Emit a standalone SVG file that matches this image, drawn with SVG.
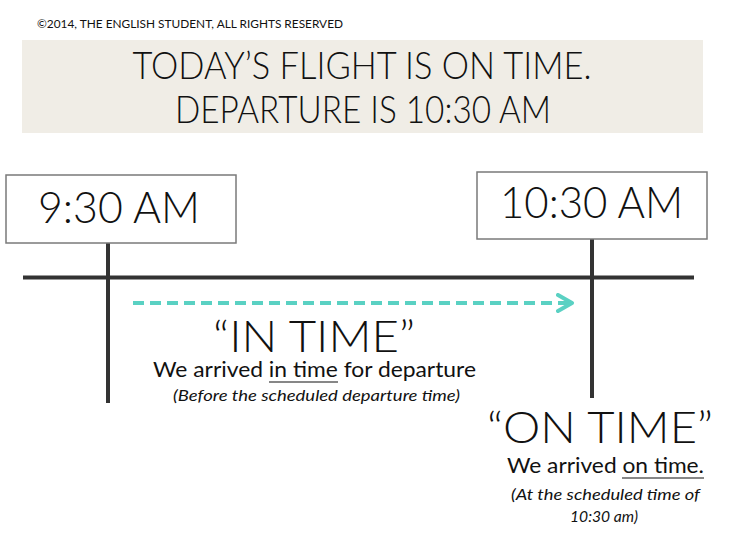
<svg xmlns="http://www.w3.org/2000/svg" width="733" height="559" viewBox="0 0 733 559">
<defs>
<style>
.t{font-family:Lato,"Noto Sans","Liberation Sans",sans-serif;fill:#111}
.big{font-size:43px;font-weight:300}
.mid{font-size:21px}
.it{font-size:15px;font-style:italic}
.box{fill:#fff;stroke:#7a7a7a;stroke-width:1.5}
.line{stroke:#333;stroke-width:4;fill:none}
.ul{stroke:#111;stroke-width:1.2}
</style>
<marker id="chev" viewBox="0 0 10 10" refX="8" refY="5" markerWidth="5" markerHeight="5" markerUnits="strokeWidth" orient="auto">
<path d="M1,1 L8,5 L1,9" fill="none" stroke="#5ad1c3" stroke-width="2" stroke-linecap="round" stroke-linejoin="round"/>
</marker>
</defs>
<rect width="733" height="559" fill="#fff"/>
<text class="t" x="37" y="28" font-size="11" textLength="306" lengthAdjust="spacingAndGlyphs">©2014, THE ENGLISH STUDENT, ALL RIGHTS RESERVED</text>
<g id="title">
<rect x="22" y="40" width="681" height="93" fill="#f0ede6"/>
<text class="t" x="362" y="79" font-size="38" font-weight="300" text-anchor="middle" textLength="459" lengthAdjust="spacingAndGlyphs">TODAY’S FLIGHT IS ON TIME.</text>
<text class="t" x="363" y="123" font-size="38" font-weight="300" text-anchor="middle" textLength="376" lengthAdjust="spacingAndGlyphs">DEPARTURE IS 10:30 AM</text>
</g>
<g id="connectors">
<line class="line" x1="23" y1="277.5" x2="694" y2="277.5"/>
<line class="line" x1="108" y1="243" x2="108" y2="403"/>
<line class="line" x1="592" y1="239" x2="592" y2="398"/>
<line x1="133" y1="303" x2="572" y2="303" stroke="#5ad1c3" stroke-width="4" stroke-dasharray="11 6" marker-end="url(#chev)"/>
</g>
<g id="node-930">
<rect class="box" x="6" y="175" width="230" height="68"/>
<text class="t big" x="38" y="223" textLength="162" lengthAdjust="spacingAndGlyphs">9:30 AM</text>
</g>
<g id="node-1030">
<rect class="box" x="477" y="172" width="230" height="67"/>
<text class="t big" x="500" y="218" textLength="183" lengthAdjust="spacingAndGlyphs">10:30 AM</text>
</g>
<g id="in-time">
<text class="t big" x="213" y="352" textLength="202" lengthAdjust="spacingAndGlyphs">“IN TIME”</text>
<text class="t mid" x="153" y="377" textLength="323" lengthAdjust="spacingAndGlyphs">We arrived in time for departure</text>
<line class="ul" x1="269" y1="382" x2="338" y2="382"/>
<text class="t it" x="173" y="401" textLength="287" lengthAdjust="spacingAndGlyphs">(Before the scheduled departure time)</text>
</g>
<g id="on-time">
<text class="t big" x="487" y="443" textLength="226" lengthAdjust="spacingAndGlyphs">“ON TIME”</text>
<text class="t mid" x="507" y="473" textLength="197" lengthAdjust="spacingAndGlyphs">We arrived on time.</text>
<line class="ul" x1="622" y1="478" x2="704" y2="478"/>
<text class="t it" x="511" y="500" textLength="189" lengthAdjust="spacingAndGlyphs">(At the scheduled time of</text>
<text class="t it" x="570" y="522" textLength="68" lengthAdjust="spacingAndGlyphs">10:30 am)</text>
</g>
</svg>
